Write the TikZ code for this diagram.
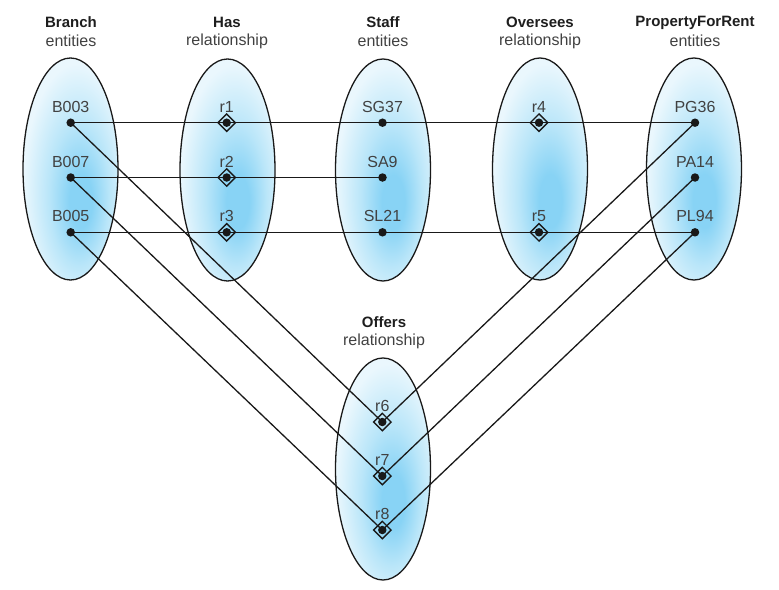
\documentclass[tikz,border=0pt]{standalone}
\usepackage{fontspec}
\setmainfont{Liberation Sans}
\usetikzlibrary{shapes.geometric}
\definecolor{bsat}{RGB}{136,211,245}
\definecolor{bmid}{RGB}{186,230,249}
\definecolor{blight}{RGB}{234,247,253}
\definecolor{txt}{RGB}{65,65,65}
\definecolor{ttl}{RGB}{30,30,30}
\pgfdeclareradialshading{ellshade}{\pgfpoint{6bp}{-8bp}}{color(0bp)=(bsat); color(6bp)=(bsat); color(16bp)=(bmid); color(28bp)=(blight); color(60bp)=(blight)}
\tikzset{
  ell/.style={ellipse, draw=black!90, line width=1.3pt, shading=ellshade, minimum width=95pt, minimum height=222pt, inner sep=0pt},
  lbl/.style={text=txt, font=\fontsize{16}{18}\selectfont, inner sep=0pt, anchor=center},
  ttlb/.style={text=ttl, font=\fontsize{15}{17}\selectfont\bfseries, inner sep=0pt},
  ttln/.style={text=txt, font=\fontsize{16}{18}\selectfont, inner sep=0pt},
  dot/.style={circle, fill=black!90, minimum size=8.5pt, inner sep=0pt},
  rel/.style={diamond, draw=black!90, line width=1.4pt, minimum size=18pt, inner sep=0pt},
  conn/.style={draw=black!90, line width=1.3pt}
}
\begin{document}
\begin{tikzpicture}[x=1pt,y=-1pt]
\useasboundingbox (0,0) rectangle (779,589);
% ellipses
\node[ell] (eB) at (70.5,169) {};
\node[ell] (eH) at (227.5,170) {};
\node[ell] (eS) at (383,170) {};
\node[ell] (eO) at (540,169) {};
\node[ell] (eP) at (694,169) {};
\node[ell] (eF) at (383,469) {};
% titles
\node[ttlb] (tB) at (71,22.5) {Branch};
\node[ttln] (sB) at (71,41) {entities};
\node[ttlb] (tH) at (227,22.5) {Has};
\node[ttln] (sH) at (227,41) {relationship};
\node[ttlb] (tS) at (383,22.5) {Staff};
\node[ttln] (sS) at (383,41) {entities};
\node[ttlb] (tO) at (540,22.5) {Oversees};
\node[ttln] (sO) at (540,41) {relationship};
\node[ttlb] (tP) at (695,22.5) {PropertyForRent};
\node[ttln] (sP) at (695,41) {entities};
\node[ttlb] (tF) at (384,322.5) {Offers};
\node[ttln] (sF) at (384,341) {relationship};
% element positions
\coordinate (B003) at (70.7,122.7);
\coordinate (B007) at (70.7,177.5);
\coordinate (B005) at (70.7,232.3);
\coordinate (r1) at (226.7,122.7);
\coordinate (r2) at (226.7,177.5);
\coordinate (r3) at (226.7,232.3);
\coordinate (SG37) at (382.5,122.7);
\coordinate (SA9) at (382.5,177.5);
\coordinate (SL21) at (382.5,232.3);
\coordinate (r4) at (539,122.7);
\coordinate (r5) at (539,232.3);
\coordinate (PG36) at (695,122.7);
\coordinate (PA14) at (695,177.5);
\coordinate (PL94) at (695,232.3);
\coordinate (r6) at (382.3,422);
\coordinate (r7) at (382.3,476);
\coordinate (r8) at (382.3,530);
% labels
\foreach \n/\t in {B003/B003,B007/B007,B005/B005,r1/r1,r2/r2,r3/r3,SG37/SG37,SA9/SA9,SL21/SL21,r4/r4,r5/r5,PG36/PG36,PA14/PA14,PL94/PL94,r6/r6,r7/r7,r8/r8}
  \node[lbl] (l\n) at ([yshift=16pt]\n) {\t};
% connectors
\draw[conn] (B003) -- (r1) -- (SG37) -- (r4) -- (PG36);
\draw[conn] (B007) -- (r2) -- (SA9);
\draw[conn] (B005) -- (r3) -- (SL21) -- (r5) -- (PL94);
\draw[conn] (B003) -- (r6) -- (PG36);
\draw[conn] (B007) -- (r7) -- (PA14);
\draw[conn] (B005) -- (r8) -- (PL94);
% diamonds
\foreach \n in {r1,r2,r3,r4,r5,r6,r7,r8}
  \node[rel] (d\n) at (\n) {};
% dots
\foreach \n in {B003,B007,B005,r1,r2,r3,SG37,SA9,SL21,r4,r5,PG36,PA14,PL94,r6,r7,r8}
  \node[dot] (p\n) at (\n) {};
\end{tikzpicture}
\end{document}
